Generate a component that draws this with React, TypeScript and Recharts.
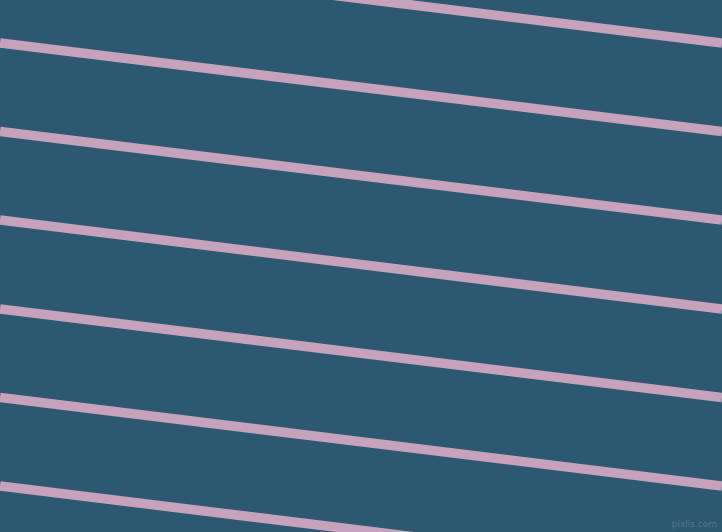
import React from "react";
import { LineChart, Line, XAxis, YAxis } from "recharts";

// Stripe y positions (px from top) read at the left edge (x=0) and right edge (x=722)
const stripeIds = ["s0", "s1", "s2", "s3", "s4", "s5", "s6"];
const leftY = [-45.5, 43, 131.5, 220, 309, 397.5, 486];
const rightY = [43, 131.5, 220, 309, 397.5, 486, 574.5];
const xEnds = [0, 722];

const W = 722;
const H = 532;

export default function App() {
  return (
    <div
      style={{
        position: "fixed",
        left: 0,
        top: 0,
        width: W,
        height: H,
        background: "#2C5872",
        overflow: "hidden",
      }}
    >
      <LineChart width={W} height={H} margin={{ top: 0, right: 0, bottom: 0, left: 0 }}>
        <XAxis type="number" dataKey="x" domain={[0, W]} hide allowDataOverflow />
        <YAxis type="number" domain={[0, H]} reversed hide allowDataOverflow width={0} />
        {stripeIds.map((id, i) => (
          <Line
            key={id}
            data={[
              { x: xEnds[0], y: leftY[i] },
              { x: xEnds[1], y: rightY[i] },
            ]}
            dataKey="y"
            type="linear"
            stroke="#C6A2BC"
            strokeWidth={9.5}
            dot={false}
            activeDot={false}
            isAnimationActive={false}
          />
        ))}
      </LineChart>
      <div
        style={{
          position: "absolute",
          right: 5,
          bottom: 3,
          fontFamily: "DejaVu Sans, sans-serif",
          fontSize: 9,
          color: "#52758C",
        }}
      >
        pixlis.com
      </div>
    </div>
  );
}
